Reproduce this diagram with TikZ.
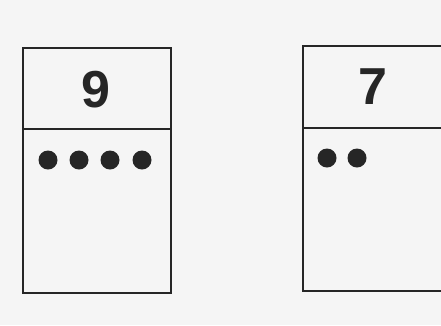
\documentclass[tikz,border=0pt]{standalone}
\usepackage{fontspec}
\setmainfont{Liberation Sans}
\begin{document}
\begin{tikzpicture}[x=1pt,y=-1pt,
  card/.style={draw=black!85,line width=1.3pt},
  digit/.style={font=\fontsize{52}{52}\selectfont\bfseries,text=black!85,inner sep=0pt},
  dot/.style={circle,fill=black!85,minimum size=19pt,inner sep=0pt}]
\useasboundingbox (0,0) rectangle (441,325);
\clip (0,0) rectangle (441,325);
\fill[black!4] (0,0) rectangle (441,325);
% left card
\draw[card] (23,48) rectangle (171,293);
\draw[card] (23,129) -- (171,129);
\node[digit] (nine) at (96,90) {9};
\node[dot] (l1) at (48,160) {};
\node[dot] (l2) at (79,160) {};
\node[dot] (l3) at (110,160) {};
\node[dot] (l4) at (142,160) {};
% right card
\draw[card] (303,46) rectangle (460,291);
\draw[card] (303,128) -- (460,128);
\node[digit] (seven) at (373,87) {7};
\node[dot] (r1) at (327,158) {};
\node[dot] (r2) at (357,158) {};
\end{tikzpicture}
\end{document}
